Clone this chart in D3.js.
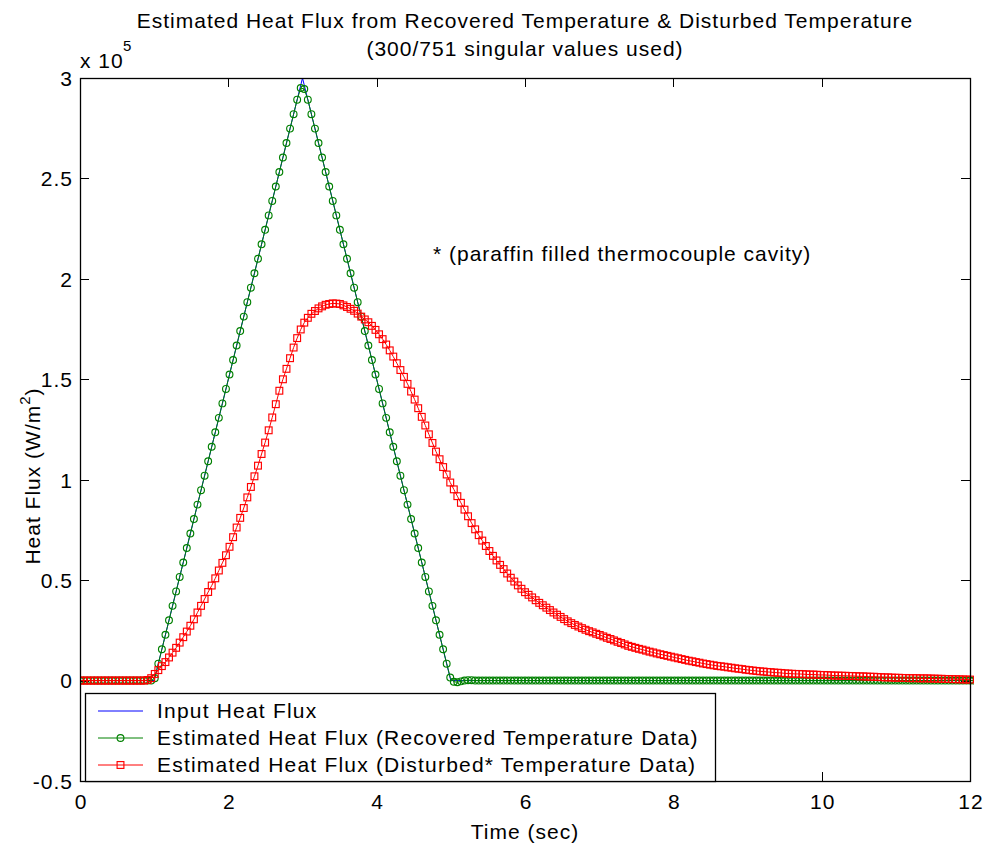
<!DOCTYPE html>
<html>
<head>
<meta charset="utf-8">
<script src="https://cdn.jsdelivr.net/npm/d3@7"></script>
<style>
  html, body { margin: 0; padding: 0; background: #fff; }
  svg { display: block; font-family: "Liberation Sans", Arial, sans-serif; }
  svg text { letter-spacing: 1px; }
  svg text.legend-label { letter-spacing: 1.2px; }
</style>
</head>
<body>
<svg id="chart" width="986" height="848"></svg>
<script>
// ---- data (heat flux in units of 1e5 W/m^2) ----
const titleLines = [
  "Estimated Heat Flux from Recovered Temperature & Disturbed Temperature",
  "(300/751 singular values used)"
];
const xTicks = [0, 2, 4, 6, 8, 10, 12];
const yTicks = [-0.5, 0, 0.5, 1, 1.5, 2, 2.5, 3];
const yTickLabels = ["-0.5", "0", "0.5", "1", "1.5", "2", "2.5", "3"];
const seriesNames = [
  "Input Heat Flux",
  "Estimated Heat Flux (Recovered Temperature Data)",
  "Estimated Heat Flux (Disturbed* Temperature Data)"
];

// input flux: triangular pulse
const inputTime = [0, 1, 3, 5, 12];
const inputFlux = [0, 0, 3, 0, 0];

// estimated fluxes, sampled every dt seconds from t = 0
const dt = 0.048;
const recoveredFlux = [
  0,0,0,0,0,0,0,0,0,0, 0,0,0,0,0,0,0,0,0,0,
  0,0.012,0.084,0.156,0.228,0.300,0.372,0.444,0.516,0.588,
  0.660,0.732,0.804,0.876,0.948,1.020,1.092,1.164,1.236,1.308,
  1.380,1.452,1.524,1.596,1.668,1.740,1.812,1.884,1.956,2.028,
  2.100,2.172,2.244,2.316,2.388,2.460,2.532,2.604,2.676,2.748,
  2.820,2.892,2.950,2.945,2.892,2.820,2.748,2.676,2.604,2.532,
  2.460,2.388,2.316,2.244,2.172,2.100,2.028,1.956,1.884,1.812,
  1.740,1.668,1.596,1.524,1.452,1.380,1.308,1.236,1.164,1.092,
  1.020,0.948,0.876,0.804,0.732,0.660,0.588,0.516,0.444,0.372,
  0.300,0.228,0.156,0.084,0.015,-0.006,-0.008,-0.004,0,0.002,
  0.002,0,0,0,0,0,0,0,0,0, 0,0,0,0,0,0,0,0,0,0,
  0,0,0,0,0,0,0,0,0,0, 0,0,0,0,0,0,0,0,0,0,
  0,0,0,0,0,0,0,0,0,0, 0,0,0,0,0,0,0,0,0,0,
  0,0,0,0,0,0,0,0,0,0, 0,0,0,0,0,0,0,0,0,0,
  0,0,0,0,0,0,0,0,0,0, 0,0,0,0,0,0,0,0,0,0,
  0,0,0,0,0,0,0,0,0,0, 0,0,0,0,0,0,0,0,0,0,
  0,0,0,0,0,0,0,0,0,0, 0,0,0,0,0,0,0,0,0,0,
  0,0,0,0,0,0,0,0,0,0, 0,0,0,0,0,0,0,0,0,0,
  0
];
const disturbedFlux = [
  0,0,0,0,0,0,0,0,0,0, 0,0,0,0,0,0,0,0,0,0.003,
  0.012,0.033,0.052,0.072,0.092,0.115,0.139,0.163,0.189,0.216,
  0.244,0.273,0.305,0.339,0.372,0.406,0.441,0.473,0.509,0.548,
  0.586,0.624,0.666,0.714,0.762,0.810,0.859,0.912,0.964,1.017,
  1.070,1.128,1.185,1.246,1.310,1.376,1.443,1.500,1.552,1.605,
  1.658,1.705,1.748,1.782,1.806,1.826,1.840,1.853,1.863,1.871,
  1.875,1.878,1.877,1.875,1.868,1.860,1.851,1.841,1.827,1.812,
  1.798,1.784,1.766,1.746,1.724,1.700,1.673,1.644,1.613,1.580,
  1.546,1.512,1.477,1.439,1.399,1.356,1.313,1.270,1.226,1.183,
  1.140,1.102,1.063,1.026,0.986,0.952,0.918,0.885,0.851,0.818,
  0.784,0.753,0.724,0.697,0.670,0.645,0.621,0.598,0.576,0.555,
  0.533,0.512,0.493,0.474,0.457,0.440,0.427,0.414,0.400,0.387,
  0.375,0.363,0.351,0.339,0.328,0.317,0.306,0.295,0.286,0.277,
  0.269,0.261,0.253,0.246,0.240,0.233,0.227,0.220,0.213,0.207,
  0.200,0.193,0.187,0.180,0.173,0.168,0.163,0.158,0.154,0.149,
  0.144,0.140,0.135,0.131,0.127,0.123,0.119,0.115,0.111,0.107,
  0.103,0.099,0.096,0.092,0.089,0.085,0.082,0.079,0.076,0.073,
  0.071,0.069,0.066,0.064,0.061,0.059,0.057,0.054,0.052,0.050,
  0.048,0.046,0.045,0.043,0.042,0.040,0.039,0.038,0.036,0.035,
  0.034,0.033,0.033,0.032,0.031,0.030,0.030,0.029,0.028,0.028,
  0.027,0.026,0.025,0.025,0.024,0.024,0.023,0.023,0.022,0.021,
  0.021,0.020,0.019,0.019,0.018,0.017,0.016,0.016,0.015,0.014,
  0.014,0.013,0.013,0.012,0.012,0.012,0.011,0.011,0.011,0.010,
  0.010,0.009,0.009,0.008,0.008,0.007,0.007,0.006,0.006,0.005,
  0.005
];

// ---- layout ----
const svg = d3.select("#chart");
const plotL = 80, plotR = 970, plotT = 78, plotB = 781;
const x = d3.scaleLinear().domain([0, 12]).range([plotL, plotR]);
const y = d3.scaleLinear().domain([-0.5, 3]).range([plotB, plotT]);
const colors = ["#0000ff", "#008000", "#ff0000"];
const fontSize = 21;
const tickLen = 9;

svg.append("defs").append("clipPath").attr("id", "plotClip")
  .append("rect").attr("x", plotL).attr("y", plotT - 4)
  .attr("width", plotR - plotL + 4).attr("height", plotB - plotT + 8);

// ---- axes: ticks inward on all four sides ----
const axBottom = d3.axisBottom(x).tickValues(xTicks).tickSize(0).tickPadding(0);
svg.append("g").attr("transform", `translate(0,${plotB})`).call(axBottom)
  .call(g => g.select(".domain").remove())
  .call(g => g.selectAll("text").attr("y", 13).attr("dy", "0.71em").attr("dx", "0.5px")
    .attr("font-size", fontSize).attr("font-family", "Liberation Sans, Arial, sans-serif").attr("fill", "#000"));

const axLeft = d3.axisLeft(y).tickValues(yTicks).tickFormat((d, i) => yTickLabels[i]).tickSize(0);
svg.append("g").attr("transform", `translate(${plotL},0)`).call(axLeft)
  .call(g => g.select(".domain").remove())
  .call(g => g.selectAll("text").attr("x", -7).attr("dy", "0.35em")
    .attr("font-size", fontSize).attr("font-family", "Liberation Sans, Arial, sans-serif").attr("fill", "#000"));

const tickG = svg.append("g").attr("stroke", "#000").attr("stroke-width", 1);
xTicks.forEach(v => {
  const px = Math.round(x(v)) + 0.5;
  tickG.append("line").attr("x1", px).attr("x2", px).attr("y1", plotB).attr("y2", plotB - tickLen);
  tickG.append("line").attr("x1", px).attr("x2", px).attr("y1", plotT).attr("y2", plotT + tickLen);
});
yTicks.forEach(v => {
  const py = Math.round(y(v)) + 0.5;
  tickG.append("line").attr("x1", plotL).attr("x2", plotL + tickLen).attr("y1", py).attr("y2", py);
  tickG.append("line").attr("x1", plotR).attr("x2", plotR - tickLen).attr("y1", py).attr("y2", py);
});

// ---- series ----
const plot = svg.append("g").attr("clip-path", "url(#plotClip)");
const line = d3.line().x(d => x(d[0])).y(d => y(d[1]));

const inputPts = inputTime.map((t, i) => [t, inputFlux[i]]);
const recPts = recoveredFlux.map((v, i) => [i * dt, v]);
const disPts = disturbedFlux.map((v, i) => [i * dt, v]);

plot.append("path").datum(inputPts).attr("d", line)
  .attr("fill", "none").attr("stroke", colors[0]).attr("stroke-width", 1);

plot.append("path").datum(recPts).attr("d", line)
  .attr("fill", "none").attr("stroke", colors[1]).attr("stroke-width", 1);
plot.append("g").selectAll("circle").data(recPts).join("circle")
  .attr("cx", d => x(d[0])).attr("cy", d => y(d[1])).attr("r", 3.4)
  .attr("fill", "none").attr("stroke", colors[1]).attr("stroke-width", 1.15);

plot.append("path").datum(disPts).attr("d", line)
  .attr("fill", "none").attr("stroke", colors[2]).attr("stroke-width", 1);
const sq = 6.8;
plot.append("g").selectAll("rect").data(disPts).join("rect")
  .attr("x", d => x(d[0]) - sq / 2).attr("y", d => y(d[1]) - sq / 2)
  .attr("width", sq).attr("height", sq)
  .attr("fill", "none").attr("stroke", colors[2]).attr("stroke-width", 1.15);

// ---- frame ----
svg.append("rect").attr("x", plotL + 0.5).attr("y", plotT + 0.5)
  .attr("width", plotR - plotL).attr("height", plotB - plotT)
  .attr("fill", "none").attr("stroke", "#000").attr("stroke-width", 1.3);

// ---- exponent label ----
svg.append("text").attr("x", plotL).attr("y", 68).attr("font-size", fontSize).attr("fill", "#000").text("x 10");
svg.append("text").attr("x", 123).attr("y", 51).attr("font-size", 15).attr("fill", "#000").text("5");

// ---- titles ----
svg.append("g").selectAll("text").data(titleLines).join("text")
  .attr("x", (plotL + plotR) / 2).attr("y", (d, i) => 28 + i * 28)
  .attr("text-anchor", "middle").attr("font-size", fontSize).attr("fill", "#000")
  .text(d => d);

svg.append("text").attr("x", (plotL + plotR) / 2).attr("y", 839)
  .attr("text-anchor", "middle").attr("font-size", fontSize).attr("fill", "#000")
  .text("Time (sec)");

const yl = svg.append("text").attr("transform", `translate(40,476) rotate(-90)`)
  .attr("text-anchor", "middle").attr("font-size", fontSize).attr("fill", "#000");
yl.append("tspan").text("Heat Flux (W/m");
yl.append("tspan").attr("font-size", 15).attr("dy", -10).text("2");
yl.append("tspan").attr("dy", 10).text(")");

svg.append("text").attr("x", 433).attr("y", 261).attr("font-size", fontSize).attr("fill", "#000")
  .text("* (paraffin filled thermocouple cavity)");

// ---- legend ----
const lg = svg.append("g");
const lgX0 = 85, lgY0 = 693, lgX1 = 715, lgY1 = plotB;
lg.append("rect").attr("x", lgX0 + 0.5).attr("y", lgY0 + 0.5)
  .attr("width", lgX1 - lgX0).attr("height", lgY1 - lgY0)
  .attr("fill", "#fff").attr("stroke", "#000").attr("stroke-width", 1.3);
const rowY = [711, 738, 765];
seriesNames.forEach((name, i) => {
  const yy = rowY[i];
  lg.append("line").attr("x1", 98).attr("x2", 143).attr("y1", yy).attr("y2", yy)
    .attr("stroke", colors[i]).attr("stroke-width", 1);
  if (i === 1) {
    lg.append("circle").attr("cx", 120.5).attr("cy", yy).attr("r", 3.4)
      .attr("fill", "none").attr("stroke", colors[i]).attr("stroke-width", 1.15);
  } else if (i === 2) {
    lg.append("rect").attr("x", 120.5 - sq / 2).attr("y", yy - sq / 2).attr("width", sq).attr("height", sq)
      .attr("fill", "none").attr("stroke", colors[i]).attr("stroke-width", 1.15);
  }
  lg.append("text").attr("class", "legend-label").attr("x", 157).attr("y", yy).attr("dy", "0.35em")
    .attr("font-size", fontSize).attr("fill", "#000").text(name);
});
</script>
</body>
</html>
